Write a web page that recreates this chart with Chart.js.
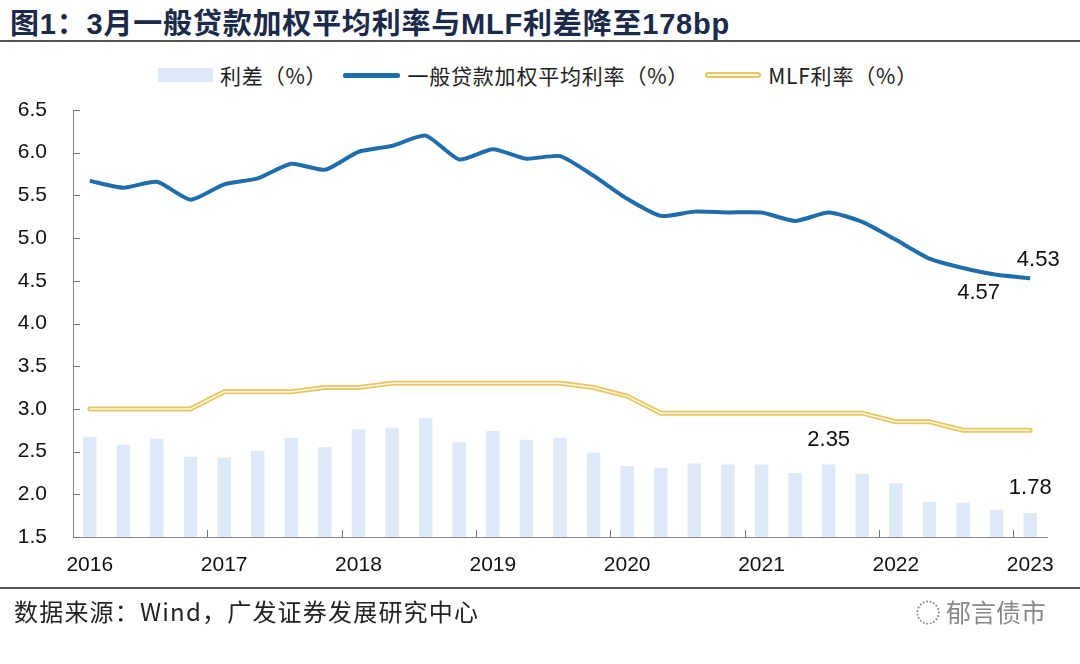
<!DOCTYPE html>
<html lang="zh">
<head>
  <meta charset="UTF-8"/>
  <title>图1</title>
  <script src="https://cdn.jsdelivr.net/npm/chart.js"></script>
  <style>
    body { margin:0; background:#fff; font-family: "Liberation Sans", Arial, "Noto Sans CJK SC", sans-serif; }
    #wrap { position:relative; width:1080px; height:664px; overflow:hidden; }
    #title { position:absolute; left:10px; top:0px; font-size:29px; font-weight:bold; color:#1b2a48; letter-spacing:0.8px;
             font-family: "Liberation Sans", Arial, "Noto Sans CJK SC", sans-serif; }
    .rule { position:absolute; left:0; width:1080px; height:2px; background:#555; }
    #legend { position:absolute; top:60px; left:0; width:1080px; display:flex; justify-content:center; align-items:center;
              font-size:21px; color:#222; font-family:"Noto Sans CJK SC", sans-serif; margin-left:-10px; letter-spacing:0.8px; }
    .sw { display:inline-block; margin:0 7px 0 16px; }
    #src { position:absolute; left:14px; top:593px; font-size:24px; color:#222; font-family:"Noto Sans CJK SC", sans-serif; letter-spacing:1.2px; }
    #wm { position:absolute; right:34px; top:593px; font-size:25px; color:#888; font-family:"Noto Sans CJK SC", sans-serif; }
    canvas { position:absolute; left:0; top:0; }
  </style>
</head>
<body>
<div id="wrap">
  <div id="title">图1：3月一般贷款加权平均利率与MLF利差降至178bp</div>
  <div class="rule" style="top:40px;"></div>
  <div id="legend">
    <span class="sw" style="width:55px;height:14px;background:#dde9f6;"></span>利差（%）
    <span class="sw" style="width:57px;height:5px;background:#1f6eab;border-radius:2px;"></span>一般贷款加权平均利率（%）
    <span class="sw" style="width:52px;height:2px;border:2px solid #e7c664;background:#fdf7de;border-radius:3px;"></span>MLF利率（%）
  </div>
  <canvas id="c" width="1080" height="664"></canvas>
  <div class="rule" style="top:587px;"></div>
  <div id="src">数据来源：Wind，广发证券发展研究中心</div>
  <div id="wm">◌ 郁言债市</div>
</div>
<script>
  // quarterly, 2016Q1 .. 2023Q1
  const quarters = [
    "2016Q1","2016Q2","2016Q3","2016Q4",
    "2017Q1","2017Q2","2017Q3","2017Q4",
    "2018Q1","2018Q2","2018Q3","2018Q4",
    "2019Q1","2019Q2","2019Q3","2019Q4",
    "2020Q1","2020Q2","2020Q3","2020Q4",
    "2021Q1","2021Q2","2021Q3","2021Q4",
    "2022Q1","2022Q2","2022Q3","2022Q4",
    "2023Q1"
  ];
  const loanRate = [5.67,5.59,5.66,5.45, 5.63,5.70,5.87,5.80, 6.01,6.08,6.20,5.92,
                    6.04,5.93,5.96,5.73, 5.46,5.26,5.31,5.30, 5.30,5.20,5.30,5.19,
                    4.98,4.76,4.65,4.57, 4.53];
  const mlfRate  = [3.00,3.00,3.00,3.00, 3.20,3.20,3.20,3.25, 3.25,3.30,3.30,3.30,
                    3.30,3.30,3.30,3.25, 3.15,2.95,2.95,2.95, 2.95,2.95,2.95,2.95,
                    2.85,2.85,2.75,2.75, 2.75];
  const spread   = [2.67,2.58,2.65,2.44, 2.43,2.51,2.66,2.55, 2.76,2.78,2.89,2.61,
                    2.74,2.64,2.66,2.49, 2.33,2.31,2.36,2.35, 2.35,2.25,2.35,2.24,
                    2.13,1.91,1.90,1.82, 1.78];
  const yearLabels = ["2016","2017","2018","2019","2020","2021","2022","2023"];

  // value labels: [dataset index, point index, text, dx, dy]
  const notes = [
    [1, 28, "4.53", 8, -18],
    [1, 27, "4.57", -18, 18],
    [0, 22, "2.35", 0, -24],
    [0, 28, "1.78", 0, -25]
  ];

  // short inward tick marks on both axes
  const innerTicks = {
    id: 'innerTicks',
    afterDraw(chart) {
      const ctx = chart.ctx, x = chart.scales.x, y = chart.scales.y;
      ctx.save();
      ctx.strokeStyle = '#777';
      ctx.lineWidth = 1;
      ctx.beginPath();
      y.ticks.forEach(t => {
        const py = Math.round(y.getPixelForValue(t.value)) + 0.5;
        ctx.moveTo(x.left, py); ctx.lineTo(x.left + 7, py);
      });
      for (let i = 4; i < quarters.length; i += 4) {
        const px = Math.round((x.getPixelForValue(i - 1) + x.getPixelForValue(i)) / 2) + 0.5;
        ctx.moveTo(px, y.bottom); ctx.lineTo(px, y.bottom - 7);
      }
      ctx.stroke();
      ctx.restore();
    }
  };

  const valueLabels = {
    id: 'valueLabels',
    afterDatasetsDraw(chart) {
      const ctx = chart.ctx;
      ctx.save();
      ctx.font = '22px "Liberation Sans", Arial, sans-serif';
      ctx.fillStyle = '#111';
      ctx.textAlign = 'center';
      ctx.textBaseline = 'middle';
      notes.forEach(n => {
        const el = chart.getDatasetMeta(n[0]).data[n[1]];
        ctx.fillText(n[2], el.x + n[3], el.y + n[4]);
      });
      ctx.restore();
    }
  };

  new Chart(document.getElementById('c').getContext('2d'), {
    type: 'bar',
    data: {
      labels: quarters,
      datasets: [
        { type: 'bar', label: '利差（%）', data: spread, backgroundColor: '#dde9f6',
          barPercentage: 0.8, categoryPercentage: 0.5, order: 4 },
        { type: 'line', label: '一般贷款加权平均利率（%）', data: loanRate, borderColor: '#1f6eab',
          borderWidth: 4, pointRadius: 0, tension: 0.2, order: 1 },
        { type: 'line', label: 'MLF利率（%）', data: mlfRate, borderColor: '#e7c664',
          borderWidth: 5, pointRadius: 0, tension: 0, order: 3, borderCapStyle: 'round' },
        { type: 'line', label: 'MLF inner', data: mlfRate, borderColor: '#fdf7de',
          borderWidth: 1.5, pointRadius: 0, tension: 0, order: 2 }
      ]
    },
    options: {
      responsive: false,
      animation: false,
      layout: { padding: { left: 8, right: 33, top: 110, bottom: 87 } },
      plugins: { legend: { display: false }, tooltip: { enabled: false } },
      scales: {
        x: {
          offset: true,
          grid: { display: false },
          border: { display: true, color: '#888', width: 1 },
          ticks: {
            autoSkip: false, maxRotation: 0, padding: 8,
            color: '#111', font: { size: 21, family: '"Liberation Sans", Arial, sans-serif' },
            callback: (v, i) => i % 4 === 0 ? yearLabels[i / 4] : ''
          },
          afterFit: s => { s.height = 40; }
        },
        y: {
          min: 1.5, max: 6.5,
          grid: { display: false },
          border: { display: true, color: '#888', width: 1 },
          ticks: {
            stepSize: 0.5, padding: 18,
            color: '#111', font: { size: 21, family: '"Liberation Sans", Arial, sans-serif' },
            callback: v => v.toFixed(1)
          },
          afterFit: s => { s.width = 65; }
        }
      }
    },
    plugins: [innerTicks, valueLabels]
  });
</script>
</body>
</html>
